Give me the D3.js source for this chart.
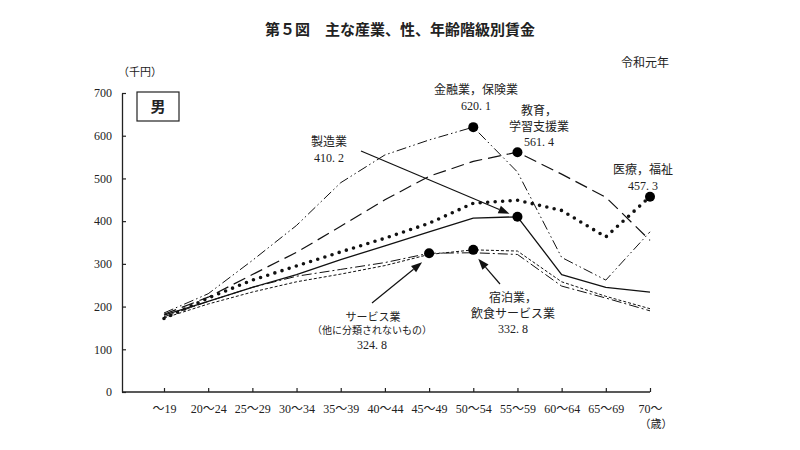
<!DOCTYPE html>
<html><head><meta charset="utf-8">
<script src="https://cdn.jsdelivr.net/npm/d3@7"></script>
<style>
body{margin:0;background:#fff;}
svg{display:block;}
text{font-family:"Liberation Serif","Noto Sans CJK JP",serif;fill:#222;}
</style></head>
<body>
<svg id="c" width="800" height="450"></svg>
<script>
const ages = ["～19","20～24","25～29","30～34","35～39","40～44","45～49","50～54","55～59","60～64","65～69","70～"];
const yTicks = [0,100,200,300,400,500,600,700];
const seizo   = [180, 212, 245, 275, 310, 342, 375, 407, 410.2, 275, 245, 234];
const kinyu   = [185, 230, 308, 390, 490, 555, 590, 620.1, 515, 315, 262, 375];
const kyoiku  = [182, 222, 275, 327, 388, 450, 505, 540, 561.4, 510, 456, 355];
const iryo    = [172, 220, 262, 295, 328, 360, 395, 442, 449, 425, 363, 457.3];
const service = [176, 212, 245, 271, 287, 303, 324.8, 326, 322, 248, 220, 190];
const shukuhaku = [173, 206, 234, 258, 276, 296, 322, 332.8, 330, 258, 224, 195];

const svg = d3.select("#c");
const x = d3.scalePoint().domain(ages).range([164, 650]).padding(0);
const y = d3.scaleLinear().domain([0, 700]).range([392, 93]);

// Title
svg.append("text").attr("x", 400).attr("y", 35).attr("text-anchor", "middle")
  .style("font-family", "'Noto Sans CJK JP',sans-serif").style("font-weight", "bold")
  .style("font-size", "15px").text("第５図　主な産業、性、年齢階級別賃金");
svg.append("text").attr("x", 645).attr("y", 67).attr("text-anchor", "middle")
  .style("font-size", "12px").text("令和元年");
svg.append("text").attr("x", 140).attr("y", 76).attr("text-anchor", "middle")
  .style("font-size", "11px").text("（千円）");

// Axes
const yAxis = d3.axisLeft(y).tickValues(yTicks).tickSizeInner(-4).tickSizeOuter(0).tickPadding(10);
const gy = svg.append("g").attr("transform", "translate(122,0)").call(yAxis);
gy.select(".domain").attr("stroke", "#222").attr("stroke-width", 1.3);
gy.selectAll(".tick line").attr("stroke", "#222").attr("stroke-width", 1.2);
gy.selectAll("text").style("font-size", "12px").style("font-family", "'Liberation Serif',serif").attr("fill", "#222");

const xAxis = d3.axisBottom(x).tickSizeInner(-4).tickSizeOuter(0).tickPadding(12);
const gx = svg.append("g").attr("transform", "translate(0,392)").call(xAxis);
gx.select(".domain").remove();
gx.selectAll(".tick line").attr("stroke", "#222").attr("stroke-width", 1.2);
gx.selectAll("text").style("font-size", "12px").attr("fill", "#222");
svg.append("line").attr("x1", 122).attr("x2", x(ages[ages.length-1])).attr("y1", 392).attr("y2", 392)
  .attr("stroke", "#222").attr("stroke-width", 1.3);
svg.append("text").attr("x", 656).attr("y", 428).attr("text-anchor", "middle")
  .style("font-size", "11px").text("（歳）");

// 男 box
svg.append("rect").attr("x", 137).attr("y", 92).attr("width", 42).attr("height", 29)
  .attr("fill", "none").attr("stroke", "#222").attr("stroke-width", 1.2);
svg.append("text").attr("x", 158).attr("y", 112).attr("text-anchor", "middle")
  .style("font-family", "'Noto Sans CJK JP',sans-serif").style("font-weight", "bold")
  .style("font-size", "15px").text("男");

// Lines
const line = d3.line().x((d, i) => x(ages[i])).y(d => y(d));
const series = [
  {v: shukuhaku, dash: "3,2", w: 1.0, cap: "butt"},
  {v: service, dash: "10,3,2,3", w: 1.0, cap: "butt"},
  {v: seizo, dash: null, w: 1.3, cap: "butt"},
  {v: kyoiku, dash: "13,6", w: 1.2, cap: "butt"},
  {v: kinyu, dash: "10,3,1.5,3,1.5,3", w: 1.0, cap: "butt"},
  {v: iryo, dash: "0,7.5", w: 3.6, cap: "round"}
];
series.forEach(s => {
  svg.append("path").datum(s.v).attr("d", line).attr("fill", "none")
    .attr("stroke", "#111").attr("stroke-width", s.w)
    .attr("stroke-dasharray", s.dash).attr("stroke-linecap", s.cap)
    .attr("stroke-linejoin", "round");
});

// Peak markers
const peaks = [
  [kinyu, 7], [kyoiku, 8], [seizo, 8], [iryo, 11], [service, 6], [shukuhaku, 7]
];
peaks.forEach(([arr, i]) => {
  svg.append("circle").attr("cx", x(ages[i])).attr("cy", y(arr[i])).attr("r", 5).attr("fill", "#000");
});

// Annotations
function label(lines, cx, cy, sizes) {
  lines.forEach((t, k) => {
    svg.append("text").attr("x", cx).attr("y", cy + k * 15.5).attr("text-anchor", "middle")
      .style("font-size", (sizes && sizes[k]) || "12px").text(t);
  });
}
label(["金融業，保険業", "620. 1"], 476, 94);
label(["教育，", "学習支援業", "561. 4"], 539, 115);
label(["製造業", "410. 2"], 329, 146);
label(["医療，福祉", "457. 3"], 643, 174);
svg.append("text").attr("x", 373).attr("y", 321).attr("text-anchor", "middle").style("font-size", "11px").text("サービス業");
svg.append("text").attr("x", 372).attr("y", 334).attr("text-anchor", "middle").style("font-size", "10px").text("（他に分類されないもの）");
svg.append("text").attr("x", 372).attr("y", 349).attr("text-anchor", "middle").style("font-size", "12px").text("324. 8");
label(["宿泊業，", "飲食サービス業", "332. 8"], 513, 302);

// Arrows
function arrow(x1, y1, x2, y2) {
  const ang = Math.atan2(y2 - y1, x2 - x1);
  const L = 11, W = 4;
  const bx = x2 - L * Math.cos(ang), by = y2 - L * Math.sin(ang);
  svg.append("line").attr("x1", x1).attr("y1", y1).attr("x2", bx).attr("y2", by)
    .attr("stroke", "#111").attr("stroke-width", 1.2);
  const px = -Math.sin(ang) * W, py = Math.cos(ang) * W;
  svg.append("path").attr("d", `M${x2},${y2}L${bx + px},${by + py}L${bx - px},${by - py}Z`).attr("fill", "#111");
}
arrow(361, 151, x(ages[8]) - 8, y(seizo[8]) - 3);
arrow(372, 303, x(ages[6]) - 7, y(service[6]) + 9);
arrow(500, 284, x(ages[7]) + 5, y(shukuhaku[7]) + 9);
</script>
</body></html>
